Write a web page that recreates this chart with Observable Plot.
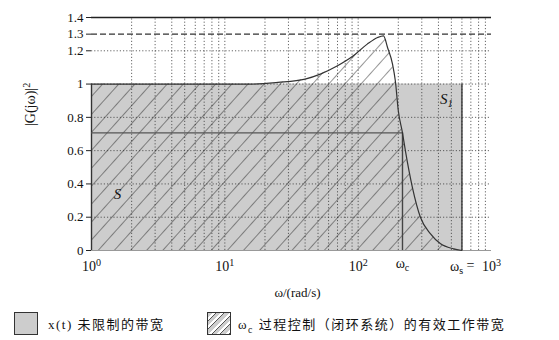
<!DOCTYPE html>
<html><head><meta charset="utf-8">
<script src="https://cdn.jsdelivr.net/npm/d3@7"></script>
<script src="https://cdn.jsdelivr.net/npm/@observablehq/plot@0.6"></script>
<style>
body{margin:0;background:#fff;font-family:"Liberation Serif","Noto Sans CJK SC",serif;}
#wrap{position:relative;width:559px;height:340px;}
.lbox{position:absolute;top:312px;width:22px;height:21px;border:1.5px solid #333;}
.ltext{position:absolute;top:314px;font-size:13px;letter-spacing:1.5px;color:#111;white-space:nowrap;font-family:"Liberation Serif","Noto Sans CJK SC",serif;}
</style></head><body><div id="wrap"></div>
<script>
// frequency (rad/s) and |G(jw)|^2
const omega = [1, 16, 25, 40, 52, 70, 92, 117, 140, 155, 166, 181, 190, 200, 215, 226, 255, 293, 349, 415, 519, 600];
const gain  = [1.0, 1.0, 1.01, 1.03, 1.06, 1.11, 1.17, 1.24, 1.28, 1.29, 1.22, 1.12, 1.02, 0.84, 0.707, 0.6, 0.38, 0.2, 0.1, 0.04, 0.01, 0];
const omegaC = 215;
const halfPower = 0.707;
const bandEnd = 600;
const peakLine = 1.3;
const yTicks = [0, 0.2, 0.4, 0.6, 0.8, 1, 1.2, 1.3, 1.4];
const yLabels = ["0", "0.2", "0.4", "0.6", "0.8", "1", "1.2", "1.3", "1.4"];
const yGrid = [0.2, 0.4, 0.6, 0.8, 1.0, 1.2];
const xTicks = [1, 10, 100, 1000];
const xLabels = ["10^0", "10^1", "10^2", "10^3"];
const xGrid = [2,3,4,5,6,7,8,9,10,20,30,40,50,60,70,80,90,100,200,300,400,500,600,700,800,900];
const regionLabels = [{w: 1.57, g: 0.34, t: "S"}, {w: 459, g: 0.91, t: "S_1"}];
const legendTexts = ["x(t) 未限制的带宽", "ω_c 过程控制（闭环系统）的有效工作带宽"];

const curve = omega.map((w, i) => ({w, g: gain[i]}));

const plot = Plot.plot({
  width: 559, height: 305,
  marginLeft: 91, marginRight: 68, marginTop: 17, marginBottom: 55,
  style: {background: "#fff", fontFamily: "Liberation Serif, serif", fontSize: "13px", color: "#111"},
  x: {type: "log", domain: [1, 1000], axis: null},
  y: {domain: [0, 1.4]},
  marks: [
    Plot.rect([{x1: 1, x2: bandEnd, y1: 0, y2: 1}], {x1: "x1", x2: "x2", y1: "y1", y2: "y2", fill: "#cdcdcd"}),
    Plot.areaY(curve, {x: "w", y: "g", fill: "url(#hatch)", curve: "monotone-x"}),
    Plot.ruleX(xGrid, {y1: 0, y2: 1.4, stroke: "#333", strokeDasharray: "1.2,2", strokeOpacity: 0.75}),
    Plot.ruleY(yGrid, {x1: 1, x2: 1000, stroke: "#333", strokeDasharray: "1.2,2", strokeOpacity: 0.75}),
    Plot.ruleY([peakLine], {x1: 1, x2: 1000, stroke: "#333", strokeDasharray: "6,3", strokeWidth: 1.1}),
    Plot.ruleY([1.4], {x1: 1, x2: 1000, stroke: "#222", strokeWidth: 1.6}),
    Plot.ruleY([0], {x1: 1, x2: 1000, stroke: "#999", strokeWidth: 1.2}),
    Plot.ruleX([1, bandEnd], {y1: 0, y2: 1, stroke: "#333", strokeWidth: 1.4}),
    Plot.ruleY([halfPower], {x1: 1, x2: omegaC, stroke: "#555", strokeWidth: 1.4}),
    Plot.ruleX([omegaC], {y1: 0, y2: halfPower, stroke: "#444", strokeWidth: 1.4}),
    Plot.line(curve, {x: "w", y: "g", stroke: "#333", strokeWidth: 1.2, curve: "monotone-x"}),
    Plot.axisY({ticks: yTicks, tickFormat: d => yLabels[yTicks.indexOf(d)], tickSize: 5, tickPadding: 3, fontSize: 13, label: null, stroke: "#222"}),
    Plot.text(xTicks, {x: d => d, y: 0, dy: 16, text: (d, i) => xLabels[i], fontSize: 14}),
    Plot.text([1000], {x: d => d, y: 0, dy: 16, dx: -17, textAnchor: "end", text: () => "ω_s =", fontSize: 14}),
    Plot.text([omegaC], {x: d => d, y: 0, dy: 13, text: () => "ω_c", fontSize: 14}),
    Plot.text(regionLabels, {x: "w", y: "g", text: "t", fontSize: 15, fontStyle: "italic"}),
    Plot.text(["|G(jω)|^2"], {frameAnchor: "left", dx: -61, dy: -8, rotate: -90, fontSize: 14}),
    Plot.text(["ω/(rad/s)"], {frameAnchor: "bottom", dx: 6, dy: 46, fontSize: 13})
  ]
});

const svg = d3.select(plot);
svg.insert("defs", ":first-child").html(
  '<pattern id="hatch" patternUnits="userSpaceOnUse" width="12" height="12" patternTransform="rotate(42)">' +
  '<line x1="0" y1="0" x2="0" y2="12" stroke="#222" stroke-width="1.2" stroke-opacity="0.8"/></pattern>');

// subscripts written as _x, superscripts as ^x
svg.selectAll("text").each(function () {
  const t = this.textContent;
  if (!/[_^]/.test(t) || this.querySelector("tspan")) return;
  const parts = t.split(/([_^])(\w)/);
  this.textContent = "";
  const sel = d3.select(this);
  let shift = 0;
  for (let i = 0; i < parts.length; i++) {
    const p = parts[i];
    if (p === "_" || p === "^") {
      const d = p === "_" ? 0.3 : -0.5;
      sel.append("tspan").text(parts[i + 1]).attr("dy", (d - shift) + "em").attr("font-size", "72%");
      shift = d; i++;
    } else if (p) {
      const ts = sel.append("tspan").text(p);
      if (shift) { ts.attr("dy", (-shift / 0.72 * 0.72) + "em"); shift = 0; }
    }
  }
});

const wrap = document.getElementById("wrap");
wrap.appendChild(plot);
plot.style.position = "absolute"; plot.style.left = "0"; plot.style.top = "0";

const b1 = document.createElement("div"); b1.className = "lbox";
b1.style.left = "14px"; b1.style.background = "#cdcdcd"; wrap.appendChild(b1);
const t1 = document.createElement("div"); t1.className = "ltext";
t1.style.left = "48px"; wrap.appendChild(t1);
const b2 = document.createElement("div"); b2.className = "lbox";
b2.style.left = "207px";
b2.style.background = "repeating-linear-gradient(135deg,#cdcdcd 0 3px,#fff 3px 5px,#555 5px 6px)";
wrap.appendChild(b2);
const t2 = document.createElement("div"); t2.className = "ltext";
t2.style.left = "238px"; wrap.appendChild(t2);

function fillSub(el, s) {
  s.split(/_(\w)/).forEach((p, i) => {
    if (i % 2 === 1) { const sub = document.createElement("sub"); sub.textContent = p; sub.style.fontSize = "75%"; el.appendChild(sub); }
    else el.appendChild(document.createTextNode(p));
  });
}
fillSub(t1, legendTexts[0]);
fillSub(t2, legendTexts[1]);
</script></body></html>
